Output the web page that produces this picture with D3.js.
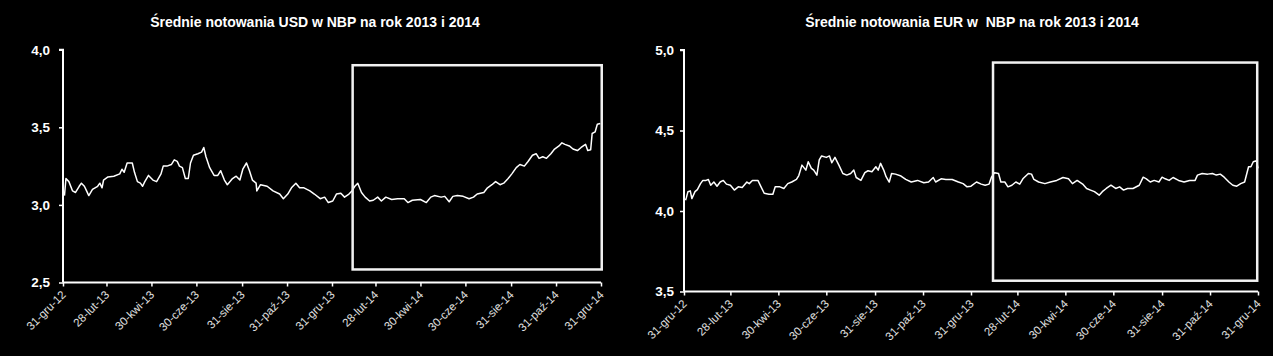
<!DOCTYPE html>
<html><head><meta charset="utf-8">
<script src="https://cdn.jsdelivr.net/npm/d3@7/dist/d3.min.js"></script>
<style>
html,body{margin:0;padding:0;background:#000;}
svg{display:block;}
text{font-family:"Liberation Sans",Arial,sans-serif;}
</style></head>
<body><svg id="c" width="1273" height="356"></svg>
<script>
// ---- data ----
const usdDates = ["2013-01-02","2013-01-04","2013-01-08","2013-01-13","2013-01-17","2013-01-22","2013-01-25","2013-01-29","2013-02-01","2013-02-04","2013-02-09","2013-02-16","2013-02-19","2013-02-22","2013-02-24","2013-03-02","2013-03-10","2013-03-18","2013-03-21","2013-03-24","2013-03-28","2013-04-01","2013-04-04","2013-04-07","2013-04-11","2013-04-15","2013-04-18","2013-04-21","2013-04-26","2013-05-02","2013-05-07","2013-05-13","2013-05-16","2013-05-21","2013-05-27","2013-05-31","2013-06-04","2013-06-07","2013-06-11","2013-06-15","2013-06-19","2013-06-22","2013-06-26","2013-07-02","2013-07-07","2013-07-10","2013-07-13","2013-07-18","2013-07-24","2013-07-29","2013-08-02","2013-08-07","2013-08-11","2013-08-18","2013-08-23","2013-08-28","2013-09-01","2013-09-06","2013-09-10","2013-09-14","2013-09-19","2013-09-20","2013-09-25","2013-10-04","2013-10-12","2013-10-21","2013-10-26","2013-11-01","2013-11-06","2013-11-12","2013-11-17","2013-11-23","2013-12-01","2013-12-07","2013-12-15","2013-12-21","2013-12-26","2014-01-01","2014-01-06","2014-01-12","2014-01-17","2014-01-23","2014-01-27","2014-01-31","2014-02-04","2014-02-09","2014-02-14","2014-02-20","2014-02-25","2014-03-03","2014-03-08","2014-03-14","2014-03-22","2014-03-30","2014-04-08","2014-04-13","2014-04-19","2014-04-30","2014-05-08","2014-05-14","2014-05-19","2014-05-28","2014-06-02","2014-06-08","2014-06-13","2014-06-19","2014-06-27","2014-07-05","2014-07-11","2014-07-16","2014-07-25","2014-07-30","2014-08-05","2014-08-10","2014-08-16","2014-08-21","2014-08-27","2014-09-01","2014-09-07","2014-09-12","2014-09-18","2014-09-23","2014-09-29","2014-10-04","2014-10-08","2014-10-13","2014-10-18","2014-10-24","2014-10-29","2014-11-04","2014-11-08","2014-11-12","2014-11-18","2014-11-23","2014-11-29","2014-12-04","2014-12-10","2014-12-13","2014-12-17","2014-12-19","2014-12-23","2014-12-26","2014-12-30"];
const usdValues = [3.06,3.17,3.15,3.09,3.08,3.12,3.14,3.12,3.09,3.06,3.10,3.12,3.14,3.11,3.16,3.18,3.185,3.20,3.23,3.21,3.27,3.27,3.27,3.21,3.15,3.14,3.12,3.15,3.19,3.16,3.15,3.20,3.25,3.25,3.26,3.29,3.28,3.25,3.24,3.17,3.17,3.27,3.32,3.33,3.34,3.37,3.31,3.24,3.19,3.19,3.22,3.16,3.13,3.17,3.185,3.16,3.23,3.27,3.22,3.16,3.14,3.09,3.13,3.12,3.09,3.07,3.04,3.07,3.11,3.14,3.11,3.11,3.09,3.07,3.04,3.05,3.015,3.025,3.07,3.075,3.05,3.07,3.09,3.12,3.14,3.08,3.05,3.025,3.03,3.05,3.025,3.05,3.035,3.04,3.04,3.015,3.03,3.035,3.015,3.05,3.06,3.05,3.055,3.02,3.055,3.06,3.055,3.04,3.05,3.07,3.08,3.11,3.13,3.15,3.13,3.14,3.17,3.20,3.24,3.26,3.25,3.28,3.32,3.33,3.30,3.31,3.30,3.33,3.36,3.38,3.40,3.39,3.38,3.36,3.35,3.37,3.39,3.35,3.355,3.46,3.47,3.52,3.525];

const eurDates = ["2013-01-02","2013-01-03","2013-01-05","2013-01-08","2013-01-10","2013-01-14","2013-01-17","2013-01-21","2013-01-24","2013-01-28","2013-01-31","2013-02-03","2013-02-07","2013-02-11","2013-02-15","2013-02-19","2013-02-23","2013-02-28","2013-03-05","2013-03-10","2013-03-15","2013-03-21","2013-03-24","2013-03-28","2013-04-04","2013-04-08","2013-04-12","2013-04-18","2013-04-23","2013-04-26","2013-05-02","2013-05-07","2013-05-12","2013-05-17","2013-05-23","2013-05-26","2013-05-30","2013-06-04","2013-06-07","2013-06-11","2013-06-14","2013-06-18","2013-06-21","2013-06-24","2013-06-30","2013-07-04","2013-07-07","2013-07-11","2013-07-16","2013-07-21","2013-07-26","2013-07-31","2013-08-04","2013-08-07","2013-08-13","2013-08-18","2013-08-22","2013-08-27","2013-09-01","2013-09-04","2013-09-07","2013-09-11","2013-09-14","2013-09-18","2013-09-21","2013-09-26","2013-10-03","2013-10-09","2013-10-16","2013-10-24","2013-11-01","2013-11-07","2013-11-13","2013-11-16","2013-11-23","2013-11-29","2013-12-07","2013-12-15","2013-12-21","2013-12-26","2013-12-31","2014-01-07","2014-01-13","2014-01-18","2014-01-23","2014-01-26","2014-01-30","2014-02-04","2014-02-07","2014-02-12","2014-02-16","2014-02-21","2014-02-26","2014-03-03","2014-03-07","2014-03-14","2014-03-18","2014-03-21","2014-03-27","2014-04-04","2014-04-11","2014-04-19","2014-04-27","2014-05-04","2014-05-09","2014-05-15","2014-05-22","2014-05-27","2014-06-01","2014-06-06","2014-06-12","2014-06-16","2014-06-21","2014-06-27","2014-07-03","2014-07-08","2014-07-13","2014-07-18","2014-07-25","2014-08-02","2014-08-07","2014-08-11","2014-08-16","2014-08-21","2014-08-27","2014-08-31","2014-09-04","2014-09-09","2014-09-14","2014-09-21","2014-09-28","2014-10-05","2014-10-12","2014-10-15","2014-10-21","2014-10-28","2014-11-03","2014-11-08","2014-11-13","2014-11-18","2014-11-24","2014-11-29","2014-12-04","2014-12-09","2014-12-14","2014-12-19","2014-12-22","2014-12-25","2014-12-29","2014-12-31"];
const eurValues = [4.067,4.083,4.12,4.125,4.077,4.12,4.133,4.17,4.19,4.19,4.196,4.16,4.18,4.154,4.18,4.19,4.167,4.16,4.13,4.15,4.146,4.18,4.17,4.19,4.19,4.15,4.11,4.104,4.104,4.15,4.15,4.14,4.17,4.18,4.196,4.22,4.285,4.254,4.306,4.265,4.254,4.223,4.317,4.342,4.333,4.342,4.30,4.333,4.285,4.233,4.223,4.233,4.254,4.208,4.19,4.238,4.25,4.244,4.275,4.254,4.296,4.254,4.213,4.18,4.233,4.229,4.217,4.196,4.18,4.19,4.175,4.18,4.208,4.18,4.20,4.196,4.196,4.18,4.17,4.15,4.154,4.18,4.167,4.16,4.167,4.21,4.238,4.233,4.18,4.18,4.15,4.16,4.18,4.167,4.20,4.233,4.229,4.196,4.18,4.17,4.18,4.19,4.208,4.20,4.17,4.19,4.167,4.14,4.13,4.12,4.098,4.12,4.14,4.16,4.14,4.15,4.13,4.14,4.14,4.16,4.21,4.20,4.18,4.19,4.18,4.21,4.20,4.19,4.208,4.19,4.18,4.19,4.19,4.223,4.233,4.229,4.233,4.223,4.229,4.21,4.18,4.16,4.154,4.17,4.18,4.275,4.275,4.306,4.312,4.265];

const tickDates = ["2012-12-31","2013-02-28","2013-04-30","2013-06-30","2013-08-31","2013-10-31","2013-12-31","2014-02-28","2014-04-30","2014-06-30","2014-08-31","2014-10-31","2014-12-31"];
const tickLabels = ["31-gru-12","28-lut-13","30-kwi-13","30-cze-13","31-sie-13","31-paź-13","31-gru-13","28-lut-14","30-kwi-14","30-cze-14","31-sie-14","31-paź-14","31-gru-14"];

const usdYTicks = [2.5, 3.0, 3.5, 4.0];
const eurYTicks = [3.5, 4.0, 4.5, 5.0];
const usdHighlight = {from:"2014-01-28", to:"2015-01-01", low:2.584, high:3.90};
const eurHighlight = {from:"2014-01-28", to:"2014-12-30", low:3.567, high:4.922};

const titles = ["Średnie notowania USD w NBP na rok 2013 i 2014", "Średnie notowania EUR w  NBP na rok 2013 i 2014"];

// ---- drawing ----
const parse = d3.utcParse("%Y-%m-%d");
const svg = d3.select("#c");
svg.append("rect").attr("width",1273).attr("height",356).attr("fill","#000");

function chart(cfg){
  const g = svg.append("g");
  const x = d3.scaleUtc().domain([parse(tickDates[0]), parse(tickDates[tickDates.length-1])]).range([cfg.x0, cfg.x1]);
  const y = d3.scaleLinear().domain([cfg.yTicks[0], cfg.yTicks[cfg.yTicks.length-1]]).range([cfg.y0, cfg.y1]);

  g.append("text").attr("x",cfg.titleX).attr("y",27).attr("text-anchor","middle")
    .attr("fill","#fff").attr("font-weight","bold").attr("font-size","14px")
    .style("white-space","pre").text(cfg.title);

  const yAxis = d3.axisLeft(y).tickValues(cfg.yTicks).tickSize(4).tickPadding(cfg.yPad)
    .tickFormat(d => d3.format(".1f")(d).replace(".", ","));
  const ya = g.append("g").attr("transform",`translate(${cfg.x0},0)`).call(yAxis);
  ya.select(".domain").attr("stroke","#fff").attr("stroke-width",2).attr("d",`M-4,${cfg.y1}H0V${cfg.y0}`);
  ya.selectAll(".tick line").attr("stroke","#fff").attr("stroke-width",1.5);
  ya.selectAll(".tick text").attr("fill","#fff").attr("font-weight","bold").attr("font-size","13.5px")
    .attr("font-family","'Liberation Sans',Arial,sans-serif");

  const tdates = tickDates.map(parse);
  const xAxis = d3.axisBottom(x).tickValues(tdates).tickSize(4).tickFormat((d,i)=>tickLabels[i]);
  const xa = g.append("g").attr("transform",`translate(0,${cfg.y0})`).call(xAxis);
  xa.select(".domain").attr("stroke","#fff").attr("stroke-width",2).attr("d",`M${cfg.x0},0H${cfg.x1}`);
  xa.selectAll(".tick line").attr("stroke","#fff").attr("stroke-width",1.5);
  xa.selectAll(".tick text").attr("fill","#e0e0e0").attr("font-size","11.5px")
    .attr("font-family","'Liberation Sans',Arial,sans-serif")
    .attr("text-anchor","end").attr("dy",null).attr("y",0)
    .attr("transform","translate(3,13) rotate(-45)");

  const line = d3.line().x(d=>x(d[0])).y(d=>y(d[1]));
  const pts = cfg.dates.map((d,i)=>[parse(d), cfg.values[i]]);
  g.append("path").attr("d",line(pts)).attr("fill","none").attr("stroke","#fff").attr("stroke-width",1.5).attr("stroke-linejoin","round");

  const h = cfg.hl;
  const hx0 = x(parse(h.from)), hx1 = x(parse(h.to));
  g.append("rect").attr("x",hx0).attr("y",y(h.high)).attr("width",hx1-hx0).attr("height",y(h.low)-y(h.high))
    .attr("fill","none").attr("stroke","#f2f2f2").attr("stroke-width",2.5);
}

chart({x0:63, x1:601, y0:282.5, y1:49.7, yTicks:usdYTicks, yPad:9, title:titles[0], titleX:315,
  dates:usdDates, values:usdValues, hl:usdHighlight});
chart({x0:684, x1:1258, y0:291.5, y1:50, yTicks:eurYTicks, yPad:6, title:titles[1], titleX:972,
  dates:eurDates, values:eurValues, hl:eurHighlight});
</script></body></html>
